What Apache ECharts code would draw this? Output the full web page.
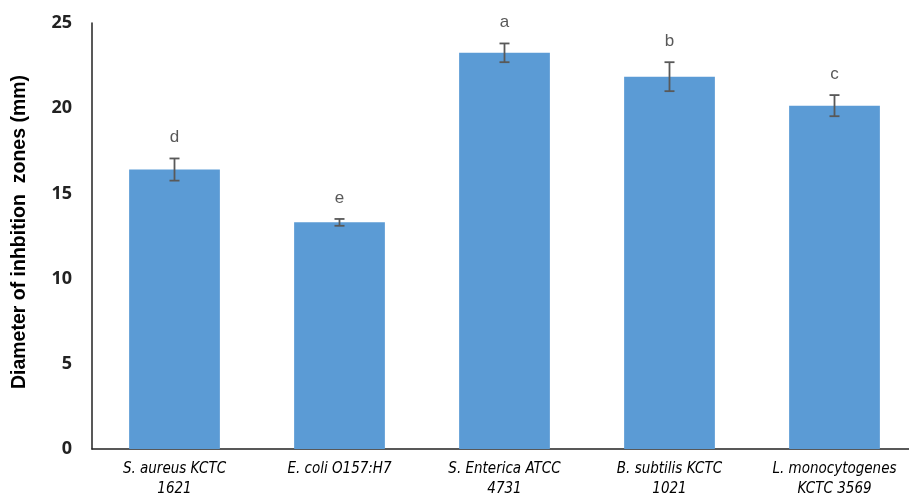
<!DOCTYPE html>
<html>
<head>
<meta charset="utf-8">
<script src="https://cdn.jsdelivr.net/npm/echarts@6/dist/echarts.min.js"></script>
<style>
  html, body { margin: 0; padding: 0; background: #fff; }
  #chart { width: 909px; height: 496px; }
</style>
</head>
<body>
<div id="chart"></div>
<script>
// Inhibition zone diameters (mm) per bacterial strain, mean ± SD with significance letters
var strains = [
  'S. aureus KCTC\n1621',
  'E. coli O157:H7',
  'S. Enterica ATCC\n4731',
  'B. subtilis KCTC\n1021',
  'L. monocytogenes\nKCTC 3569'
];
var meanDiameter = [16.4, 13.3, 23.25, 21.85, 20.15];
var stdDev = [0.65, 0.2, 0.55, 0.85, 0.62];
var groupLetters = ['d', 'e', 'a', 'b', 'c'];
var yTicks = [0, 5, 10, 15, 20, 25];

var chart = echarts.init(document.getElementById('chart'));

var errorData = meanDiameter.map(function (m, i) {
  return [i, m - stdDev[i], m + stdDev[i], groupLetters[i]];
});

chart.setOption({
  animation: false,
  grid: { left: 92, width: 825, top: 23, bottom: 47, outerBoundsMode: 'none' },
  xAxis: {
    type: 'category',
    data: strains,
    axisLine: { lineStyle: { color: '#222', width: 1.5 } },
    axisTick: { show: false },
    axisLabel: {
      color: '#000',
      fontFamily: 'DejaVu Sans Condensed, Liberation Sans, Arial, sans-serif',
      fontStyle: 'italic',
      fontSize: 15,
      lineHeight: 20,
      margin: 10,
      interval: 0
    }
  },
  yAxis: {
    type: 'value',
    min: yTicks[0],
    max: yTicks[yTicks.length - 1],
    interval: 5,
    name: 'Diameter of inhbition  zones (mm)',
    nameLocation: 'middle',
    nameGap: 62,
    nameTextStyle: {
      color: '#000',
      fontFamily: 'Liberation Sans, Arial, sans-serif',
      fontWeight: 'bold',
      fontSize: 19.5,
      padding: [0, 0, 0, 8]
    },
    axisLine: { show: true, lineStyle: { color: '#222', width: 1.5 } },
    axisTick: { show: false },
    splitLine: { show: false },
    axisLabel: {
      color: '#222',
      fontFamily: 'Open Sans, DejaVu Sans, sans-serif',
      fontWeight: 'bold',
      fontSize: 18,
      margin: 20
    }
  },
  series: [
    {
      type: 'bar',
      data: meanDiameter,
      barWidth: '55%',
      itemStyle: { color: '#5B9BD5' }
    },
    {
      type: 'custom',
      data: errorData,
      z: 10,
      renderItem: function (params, api) {
        var x = api.value(0);
        var lo = api.coord([x, api.value(1)]);
        var hi = api.coord([x, api.value(2)]);
        var cap = 5;
        var style = { stroke: '#595959', lineWidth: 1.8 };
        return {
          type: 'group',
          children: [
            { type: 'line', shape: { x1: hi[0], y1: hi[1], x2: lo[0], y2: lo[1] }, style: style },
            { type: 'line', shape: { x1: hi[0] - cap, y1: hi[1], x2: hi[0] + cap, y2: hi[1] }, style: style },
            { type: 'line', shape: { x1: lo[0] - cap, y1: lo[1], x2: lo[0] + cap, y2: lo[1] }, style: style },
            {
              type: 'text',
              x: hi[0],
              y: hi[1] - 21,
              style: {
                text: api.value(3),
                fill: '#595959',
                font: '17px "Liberation Sans", Arial, sans-serif',
                align: 'center',
                verticalAlign: 'middle'
              }
            }
          ]
        };
      }
    }
  ]
});
</script>
</body>
</html>
